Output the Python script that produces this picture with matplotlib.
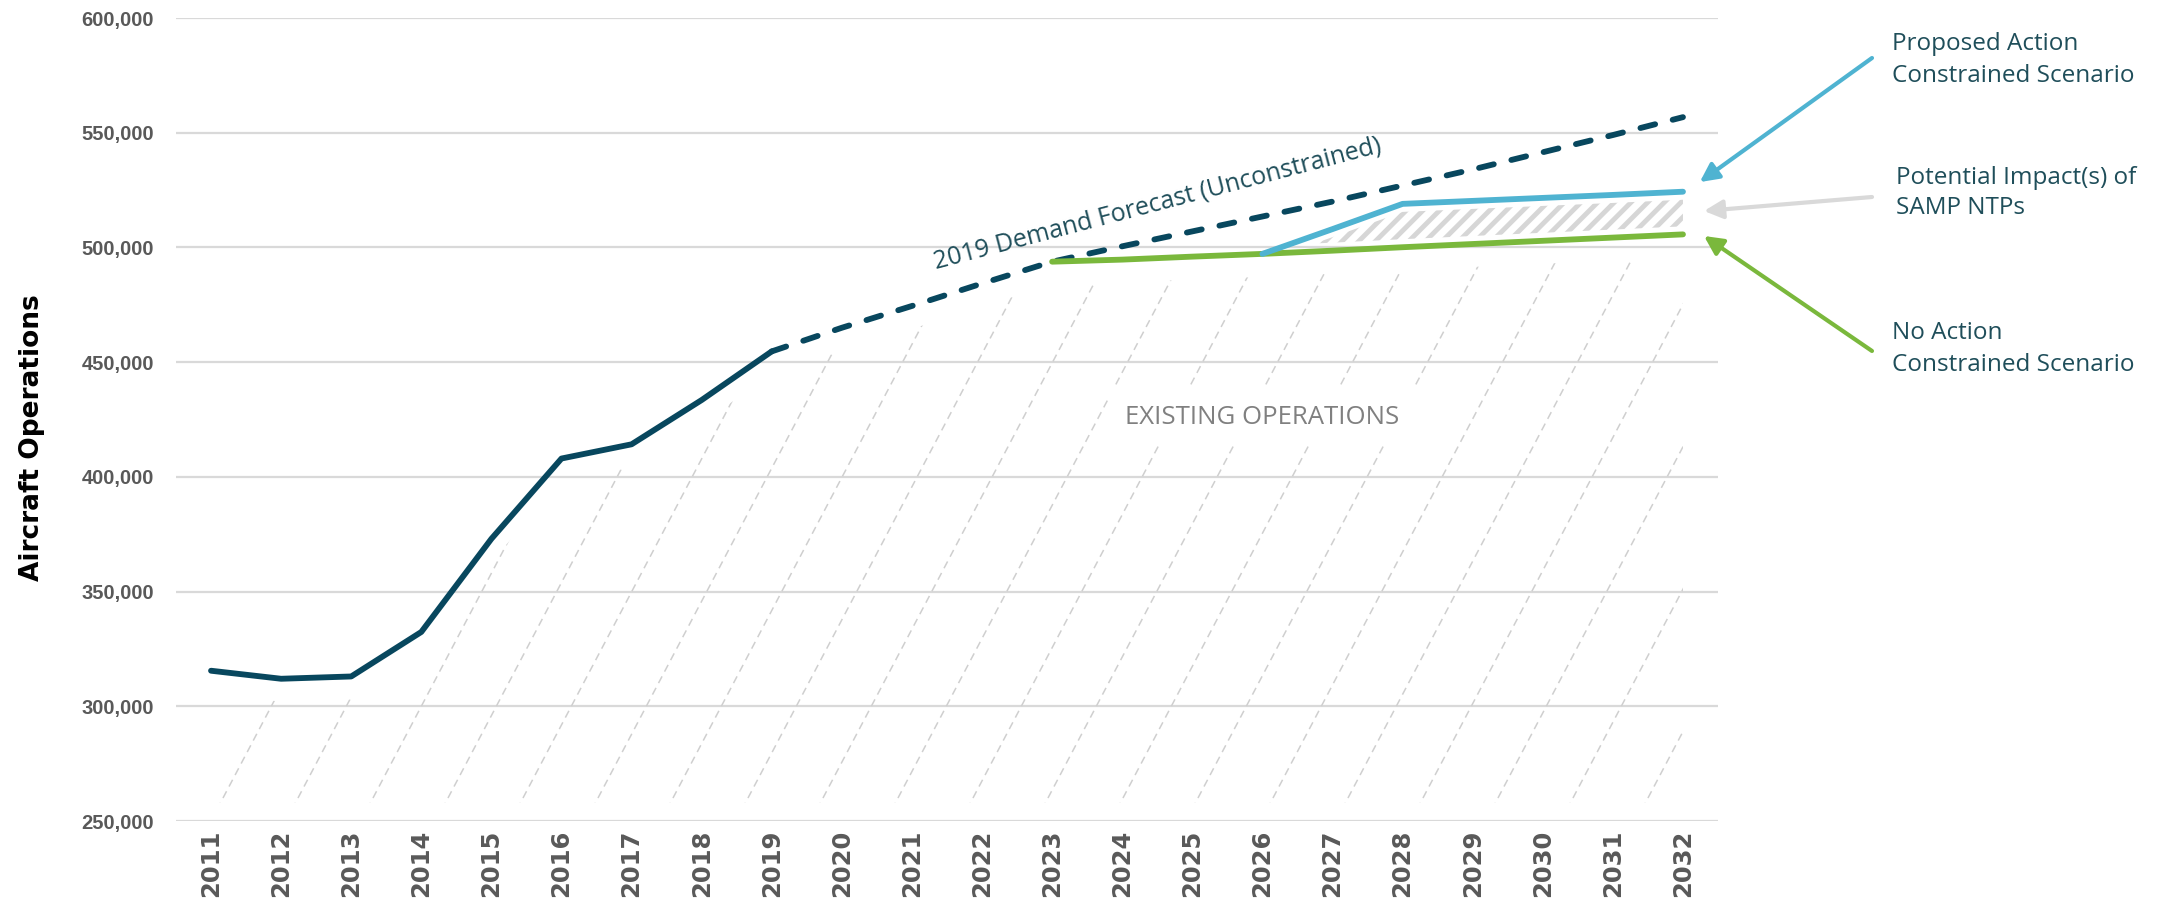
import numpy as np
import matplotlib.pyplot as plt
from matplotlib.collections import LineCollection
from matplotlib.ticker import FuncFormatter

# historical operations
hist_years = [2011, 2012, 2013, 2014, 2015, 2016, 2017, 2018, 2019]
hist_ops = [315500, 312000, 313000, 332400, 373000, 408000, 414200, 433500, 454700]

# 2019 demand forecast (unconstrained)
fc_years = [2019, 2020, 2021, 2022, 2023, 2024, 2025, 2026, 2027, 2028, 2029, 2030, 2031, 2032]
fc_ops = [454700, 465000, 474500, 484300, 493800, 500500, 507000, 513500, 520000,
          527000, 534000, 541500, 549000, 556800]

# no action constrained scenario
na_years = [2023, 2024, 2025, 2026, 2027, 2028, 2029, 2030, 2031, 2032]
na_ops = [493800, 494700, 496000, 497200, 498600, 500100, 501500, 502900, 504300, 505700]

# proposed action constrained scenario
pa_years = [2026, 2027, 2028, 2029, 2030, 2031, 2032]
pa_ops = [497200, 508000, 519000, 520300, 521600, 522900, 524300]

years = list(range(2011, 2033))
yticks = [250000, 300000, 350000, 400000, 450000, 500000, 550000, 600000]

DARK = '#08475e'
BLUE = '#4fb3d1'
GREEN = '#7ab83c'
TXT = '#1f4e5a'
GRID = '#d9d9d9'

plt.rcParams['hatch.linewidth'] = 3.5

fig = plt.figure(figsize=(21.78, 9.02), dpi=100)
ax = fig.add_axes([0.0808, 0.0898, 0.708, 0.8902])

ax.set_xlim(2010.5, 2032.5)
ax.set_ylim(250000, 600000)

ax.set_yticks(yticks)
ax.yaxis.set_major_formatter(FuncFormatter(lambda v, p: f'{int(v):,}'))
ax.grid(axis='y', color=GRID, lw=1.6)
ax.set_axisbelow(True)
for s in ax.spines.values():
    s.set_visible(False)
ax.tick_params(axis='both', length=0)
ax.tick_params(axis='y', pad=16)
ax.tick_params(axis='x', pad=6)

ax.set_xticks(years)
ax.set_xticklabels([str(y) for y in years], rotation=90, fontsize=17.5,
                   fontweight='bold', color='#595959', family='DejaVu Sans')
for lab in ax.get_yticklabels():
    lab.set_family(['Liberation Sans', 'DejaVu Sans'])
    lab.set_fontsize(14.5)
    lab.set_fontweight('bold')
    lab.set_color('#595959')

ax.set_ylabel('Aircraft Operations', fontsize=19, fontweight='bold', color='black',
              family='DejaVu Sans')
ax.yaxis.set_label_coords(-0.085, 0.478)

# existing operations area: dashed diagonal texture clipped under the curve
ex_years = hist_years + fc_years[1:5] + na_years[1:]
ex_ops = hist_ops + fc_ops[1:5] + na_ops[1:]
clip = ax.fill_between(ex_years, 258000, np.array(ex_ops) - 10000,
                       facecolor='none', edgecolor='none')
segs = []
for xc in np.arange(2014 - 1.07 * 7, 2033.5, 1.07):
    segs.append([(xc + (250000 - 300000) / 58000, 250000),
                 (xc + (600000 - 300000) / 58000, 600000)])
lc = LineCollection(segs, colors='#cfcfcf', linewidths=1.1, linestyles=(0, (5, 3.5)))
ax.add_collection(lc)
lc.set_clip_path(clip.get_paths()[0], ax.transData)

ax.text(2026, 426000, 'EXISTING OPERATIONS', fontsize=18.5, color='#808080',
        family='Open Sans', ha='center', va='center',
        bbox=dict(facecolor='white', edgecolor='none', pad=12))

# potential impact hatch between scenarios
na_sub = np.array(na_ops[3:])
pa_arr = np.array(pa_ops)
ax.fill_between(pa_years, na_sub + 3500, pa_arr - 3500, where=(pa_arr - na_sub) > 7000,
                interpolate=True, facecolor='none', edgecolor='#d6d6d6', hatch='//', lw=0)

ax.plot(hist_years, hist_ops, color=DARK, lw=4.2, solid_capstyle='round',
        solid_joinstyle='round')
ax.plot(fc_years, fc_ops, color=DARK, lw=4.2, ls=(0, (2.6, 3.1)),
        dash_capstyle='round')
ax.plot(na_years, na_ops, color=GREEN, lw=4.2, solid_capstyle='round')
ax.plot(pa_years, pa_ops, color=BLUE, lw=4.2, solid_capstyle='round')

ax.text(2024.5, 519000, '2019 Demand Forecast (Unconstrained)', fontsize=18,
        color=TXT, family='Open Sans', rotation=14.7, ha='center', va='center',
        rotation_mode='anchor')

# right-hand callouts
ax.annotate('', xy=(2032.24, 528500), xytext=(0.8595, 0.9357),
            textcoords='figure fraction', annotation_clip=False,
            arrowprops=dict(arrowstyle='-|>', color=BLUE, lw=3, mutation_scale=28,
                            shrinkA=0, shrinkB=0))
ax.annotate('', xy=(2032.3, 515900), xytext=(0.8595, 0.7816),
            textcoords='figure fraction', annotation_clip=False,
            arrowprops=dict(arrowstyle='-|>', color='#d9d9d9', lw=3, mutation_scale=28,
                            shrinkA=0, shrinkB=0))
ax.annotate('', xy=(2032.3, 505000), xytext=(0.8595, 0.6109),
            textcoords='figure fraction', annotation_clip=False,
            arrowprops=dict(arrowstyle='-|>', color=GREEN, lw=3, mutation_scale=28,
                            shrinkA=0, shrinkB=0))

fig.text(0.8687, 0.9335, 'Proposed Action\nConstrained Scenario', fontsize=17.5,
         color=TXT, family='Open Sans', va='center', ha='left', linespacing=1.45)
fig.text(0.8705, 0.786, 'Potential Impact(s) of\nSAMP NTPs', fontsize=17.5,
         color=TXT, family='Open Sans', va='center', ha='left', linespacing=1.3)
fig.text(0.8687, 0.613, 'No Action\nConstrained Scenario', fontsize=17.5,
         color=TXT, family='Open Sans', va='center', ha='left', linespacing=1.45)

fig.savefig('out.png', dpi=100)
